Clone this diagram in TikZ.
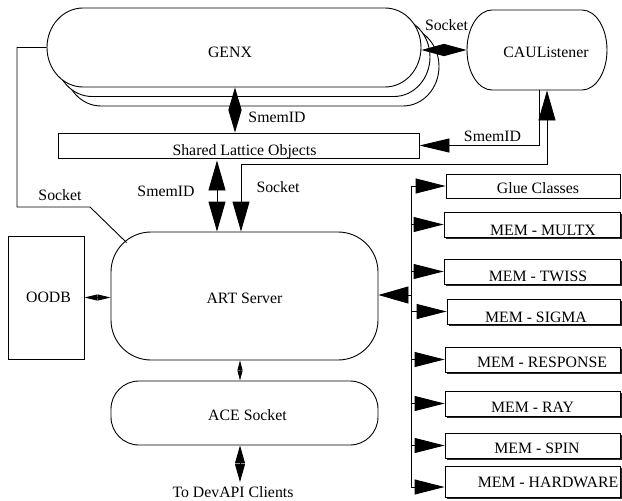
\documentclass[tikz,border=0pt]{standalone}
\usepackage{fontspec}
\setmainfont{Liberation Serif}
\usetikzlibrary{arrows.meta,calc,shadows}
\newcommand\drawpill[5]{% x1,y1,x2,y2,rx
  \draw[pillline] ({#1+#5},#2) -- ({#3-#5},#2)
    .. controls ({#3-#5+0.5523*#5},#2) and (#3,{(#2+#4)/2-0.5523*(#4-#2)/2}) .. (#3,{(#2+#4)/2})
    .. controls (#3,{(#2+#4)/2+0.5523*(#4-#2)/2}) and ({#3-#5+0.5523*#5},#4) .. ({#3-#5},#4)
    -- ({#1+#5},#4)
    .. controls ({#1+#5-0.5523*#5},#4) and (#1,{(#2+#4)/2+0.5523*(#4-#2)/2}) .. (#1,{(#2+#4)/2})
    .. controls (#1,{(#2+#4)/2-0.5523*(#4-#2)/2}) and ({#1+#5-0.5523*#5},#2) .. ({#1+#5},#2) -- cycle;}
\tikzset{
  TipBus/.tip={Triangle[length=30pt,width=15pt]},
  TipArt/.tip={Triangle[length=30pt,width=17pt]},
  TipSm/.tip={Triangle[length=30pt,width=14pt]},
  TipGC/.tip={Triangle[length=22.5pt,width=12pt]},
  TipGS/.tip={Triangle[length=22.5pt,width=13pt]},
  TipOO/.tip={Triangle[length=13pt,width=6pt]},
  TipAA/.tip={Triangle[length=10pt,width=5pt]},
  TipDev/.tip={Triangle[length=18pt,width=10pt]},
}
\begin{document}
\begin{tikzpicture}[x=1pt,y=-1pt,line width=0.9pt,
  every node/.style={font=\fontsize{15.8}{18}\selectfont},
  pillline/.style={draw=black,fill=white,line width=0.9pt},
  ghost/.style={inner sep=0pt,draw=none},
  gbox/.style={draw,fill=white,rectangle,inner sep=0pt},
  membox/.style={gbox,drop shadow={shadow xshift=2pt,shadow yshift=-2pt,fill=black!85,opacity=1}},
  th/.style={text height=#1,text depth=0pt},
  lbl/.style={anchor=base,inner sep=0pt},
  conn/.style={draw=black,line width=0.9pt}]
\useasboundingbox (0,0) rectangle (622,501);

% GENX stack
\drawpill{65}{27}{439}{106}{36}
\drawpill{56}{17.5}{430}{96.5}{36}
\drawpill{47}{8}{421}{87}{36}
\node[ghost,minimum width=374pt,minimum height=79pt,th=19pt] (genx) at (234,47.5) {\hspace*{-8pt}GENX};

% CAUListener
\drawpill{467}{10}{607}{90}{25}
\node[ghost,minimum width=140pt,minimum height=80pt,th=14pt] (cau) at (537,50) {\hspace*{18pt}CAUListener};

% Shared Lattice Objects
\node[gbox,minimum width=361pt,minimum height=25pt,th=19pt] (shared) at (238.5,145.5) {\hspace*{12pt}Shared Lattice Objects};

% ART Server, OODB, ACE Socket
\node[draw,rounded corners=40pt,minimum width=267pt,minimum height=128pt,inner sep=0pt,th=14pt] (art) at (244.5,296) {ART Server};
\node[draw,minimum width=76pt,minimum height=123pt,inner sep=0pt] (oodb) at (46,297.5) {\hspace*{5pt}OODB};
\node[draw,rounded corners=28pt,minimum width=267pt,minimum height=64pt,inner sep=0pt,th=14pt] (ace) at (244.5,413) {\hspace*{6pt}ACE Socket};

% right-hand boxes
\node[gbox,minimum width=174pt,minimum height=24pt,th=14pt] (glue) at (533,186) {\hspace*{10pt}Glue Classes};
\node[membox,minimum width=176pt,minimum height=25pt,th=21pt] (multx) at (532,224.5) {\hspace*{22pt}MEM - MULTX};
\node[membox,minimum width=176pt,minimum height=25pt,th=19pt] (twiss) at (532,271.5) {\hspace*{12pt}MEM - TWISS};
\node[membox,minimum width=173pt,minimum height=25pt,th=21pt] (sigma) at (533.5,311.5) {\hspace*{5pt}MEM - SIGMA};
\node[membox,minimum width=175pt,minimum height=25pt,th=15pt] (resp) at (532.5,359.5) {\hspace*{19pt}MEM - RESPONSE};
\node[membox,minimum width=175pt,minimum height=25pt,th=17pt] (ray) at (532.5,403.5) {MEM - RAY};
\node[membox,minimum width=175pt,minimum height=25pt,th=15pt] (spin) at (532.5,445.5) {\hspace*{9pt}MEM - SPIN};
\node[membox,minimum width=175pt,minimum height=31pt,th=11pt] (hw) at (532.5,481.5) {\hspace*{31pt}MEM - HARDWARE};

% labels
\node[lbl] (lsock1) at (446.5,30.5) {Socket};
\node[lbl] (lsmem1) at (277,122.7) {SmemID};
\node[lbl] (lsmem2) at (492.5,141) {SmemID};
\node[lbl] (lsmem3) at (166,196.5) {SmemID};
\node[lbl] (lsock2) at (60,200) {Socket};
\node[lbl] (lsock3) at (278,192.5) {Socket};
\node[lbl] (dev) at (233,497.5) {To DevAPI Clients};

% helper coordinates
\coordinate (k1) at (17,207);
\coordinate (k2) at (90,207);
\coordinate (s1) at (241,164);
\coordinate (s2) at (547,164);
\coordinate (bt) at (411,186);
\coordinate (bb) at (411,487);
\coordinate (ba) at (411,295);
\coordinate (dv) at (240,482);

% connectors
\draw[conn,TipGC-TipGC] (genx.east |- cau.west) -- (cau.west);
\draw[conn,TipGS-TipGS] ($(genx.south)+(1,0)$) -- ($(genx.south |- shared.north)+(1,0)$);
\draw[conn,-TipSm] ($(cau.south)+(2,0)$) |- (shared.east);
\draw[conn,TipArt-TipArt] (art.north -| s1) -- (s1) -- (s2) -- (s2 |- cau.south);
\draw[conn,TipArt-TipArt] ($(shared.south)+(-21.5,2)$) -- ($(shared.south |- art.north)+(-21.5,0)$);
\draw[conn] (genx.west) -| (k1) -- (k2) -- ($(art.north west)+(16,11)$);
\draw[conn,TipOO-TipOO] (oodb.east) -- (oodb.east -| art.west);
\draw[conn,TipAA-TipAA] ($(art.south)+(-4.5,0)$) -- ($(ace.north)+(-4.5,0)$);
\draw[conn,TipDev-TipDev] (ace.south -| dv) -- (dv);

% bus
\draw[conn] (bt) -- (bb);
\draw[conn,-TipArt] (ba) -- (ba -| art.east);
\draw[conn,-TipBus] (bt) -- (glue.west);
\draw[conn,-TipBus] (multx.west -| bt) -- (multx.west);
\draw[conn,-TipBus] (twiss.west -| bt) -- (twiss.west);
\draw[conn,-TipBus] (sigma.west -| bt) -- (sigma.west);
\draw[conn,-TipBus] (resp.west -| bt) -- (resp.west);
\draw[conn,-TipBus] (ray.west -| bt) -- (ray.west);
\draw[conn,-TipBus] (spin.west -| bt) -- (spin.west);
\draw[conn,-TipBus] (bb) -- (bb -| hw.west);
\end{tikzpicture}
\end{document}
